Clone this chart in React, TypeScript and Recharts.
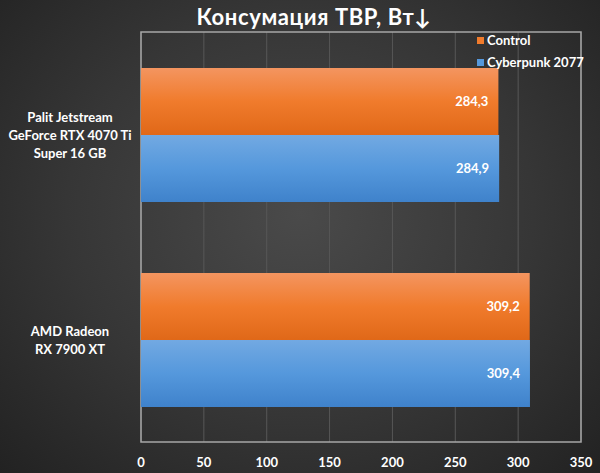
import { BarChart, Bar, XAxis, YAxis, CartesianGrid, LabelList, ReferenceArea } from 'recharts';

const categories = ['Palit Jetstream\nGeForce RTX 4070 Ti\nSuper 16 GB', 'AMD Radeon\nRX 7900 XT'];
const controlValues = [284.3, 309.2];
const cyberpunkValues = [284.9, 309.4];
const xTicks = [0, 50, 100, 150, 200, 250, 300, 350];

const data = categories.map((name, i) => ({
  name,
  control: controlValues[i],
  cyberpunk: cyberpunkValues[i],
}));

const FONT = 'Lato, "Open Sans", sans-serif';

const CategoryTick = (props: any) => {
  const { y, payload } = props;
  const lines = String(payload.value).split('\n');
  const lh = 18;
  const start = y - ((lines.length - 1) * lh) / 2;
  return (
    <text x={70} y={start} textAnchor="middle" fill="#ffffff" fontSize={13} fontWeight={700} fontFamily={FONT} dominantBaseline="central">
      {lines.map((l, i) => (
        <tspan key={i} x={70} y={start + i * lh}>{l}</tspan>
      ))}
    </text>
  );
};

const fmt = (v: any) => String(v).replace('.', ',');

export default function App() {
  return (
    <div
      style={{
        width: 600,
        height: 473,
        position: 'relative',
        background: 'radial-gradient(ellipse at 50% 45%, #4a4a4a 0%, #363636 55%, #222222 100%)',
      }}
    >
      <style>{'body{margin:0}'}</style>
      <div
        style={{
          position: 'absolute',
          top: 3,
          left: 0,
          width: 628,
          textAlign: 'center',
          color: '#fff',
          fontFamily: FONT,
          fontWeight: 700,
          fontSize: 22,
          letterSpacing: 0.6,
        }}
      >
        Консумация TBP, Вт↓
      </div>
      <BarChart
        width={600}
        height={473}
        data={data}
        layout="vertical"
        margin={{ top: 32, right: 19, bottom: 0, left: 0 }}
        barCategoryGap={36}
        barGap={0}
      >
        <defs>
          <linearGradient id="gOrange" x1="0" y1="0" x2="0" y2="1">
            <stop offset="0%" stopColor="#f49560" />
            <stop offset="50%" stopColor="#f07b2c" />
            <stop offset="100%" stopColor="#e06818" />
          </linearGradient>
          <linearGradient id="gBlue" x1="0" y1="0" x2="0" y2="1">
            <stop offset="0%" stopColor="#72a9e2" />
            <stop offset="50%" stopColor="#5598dc" />
            <stop offset="100%" stopColor="#3f82cb" />
          </linearGradient>
        </defs>
        <CartesianGrid horizontal={false} stroke="#575757" />
        <XAxis
          type="number"
          domain={[0, 350]}
          ticks={xTicks}
          height={31}
          axisLine={false}
          tickLine={false}
          tickMargin={10}
          tick={{ fill: '#ffffff', fontSize: 13, fontWeight: 700, fontFamily: FONT }}
        />
        <YAxis type="category" dataKey="name" width={141} axisLine={false} tickLine={false} tick={<CategoryTick />} />
        <ReferenceArea x1={0} x2={350} fill="none" stroke="#a6a6a6" strokeWidth={1.5} />
        <Bar dataKey="control" name="Control" fill="url(#gOrange)" isAnimationActive={false}>
          <LabelList dataKey="control" position="insideRight" offset={10} formatter={fmt} fill="#ffffff" fontSize={13} fontWeight={700} fontFamily={FONT} />
        </Bar>
        <Bar dataKey="cyberpunk" name="Cyberpunk 2077" fill="url(#gBlue)" isAnimationActive={false}>
          <LabelList dataKey="cyberpunk" position="insideRight" offset={10} formatter={fmt} fill="#ffffff" fontSize={13} fontWeight={700} fontFamily={FONT} />
        </Bar>
      </BarChart>
      <div
        style={{
          position: 'absolute',
          top: 29,
          left: 477,
          fontFamily: FONT,
          fontSize: 13,
          fontWeight: 700,
          color: '#fff',
          lineHeight: '22px',
        }}
      >
        <div style={{ display: 'flex', alignItems: 'center' }}>
          <span style={{ width: 7, height: 7, background: '#f07b2c', marginRight: 3, display: 'inline-block' }} />Control
        </div>
        <div style={{ display: 'flex', alignItems: 'center' }}>
          <span style={{ width: 7, height: 7, background: '#5598dc', marginRight: 3, display: 'inline-block' }} />Cyberpunk 2077
        </div>
      </div>
    </div>
  );
}
